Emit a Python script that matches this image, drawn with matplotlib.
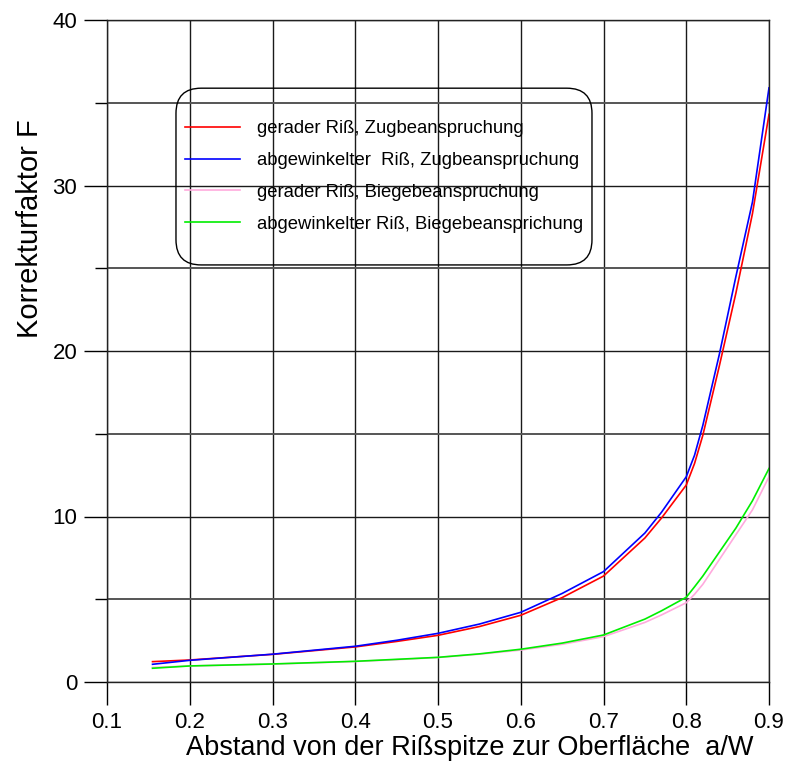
import matplotlib
matplotlib.use("Agg")
import matplotlib.pyplot as plt
from matplotlib.patches import FancyBboxPatch
from matplotlib.ticker import MultipleLocator

# a/W values where the curves were read
x_aw = [0.155, 0.2, 0.3, 0.4, 0.45, 0.5, 0.55, 0.6, 0.65, 0.7, 0.75, 0.77, 0.8,
        0.81, 0.82, 0.84, 0.86, 0.88, 0.9]

# Korrekturfaktor F
gerade_zug = [1.23, 1.33, 1.67, 2.12, 2.45, 2.82, 3.35, 4.03, 5.1, 6.4, 8.7, 9.9, 11.9,
              13.2, 14.9, 19.1, 23.5, 28.3, 34.3]
gewinkelt_zug = [1.07, 1.31, 1.68, 2.16, 2.52, 2.94, 3.5, 4.21, 5.35, 6.67, 9.0, 10.25, 12.4,
                 13.7, 15.5, 19.8, 24.5, 29.0, 35.9]
gerade_biege = [0.88, 0.97, 1.08, 1.24, 1.35, 1.48, 1.68, 1.93, 2.28, 2.74, 3.6, 4.05, 4.79,
                5.3, 5.9, 7.4, 8.9, 10.4, 12.4]
gewinkelt_biege = [0.83, 0.97, 1.09, 1.25, 1.37, 1.49, 1.7, 1.98, 2.35, 2.84, 3.8, 4.3, 5.12,
                   5.75, 6.4, 7.85, 9.3, 10.95, 12.9]

labels = ["gerader Riß, Zugbeanspruchung",
          "abgewinkelter  Riß, Zugbeanspruchung",
          "gerader Riß, Biegebeanspruchung",
          "abgewinkelter Riß, Biegebeansprichung"]
colors = ["#ff0000", "#0000ff", "#ffaadd", "#00ee00"]

plt.rcParams["font.family"] = ["Liberation Sans", "DejaVu Sans"]

fig = plt.figure(figsize=(7.89, 7.67), dpi=100)
ax = fig.add_axes([107 / 789, 1 - 682 / 767, 662 / 789, 662 / 767])

for y, lab, c in zip([gerade_zug, gewinkelt_zug, gerade_biege, gewinkelt_biege], labels, colors):
    ax.plot(x_aw, y, color=c, lw=1.2, label=lab)

ax.set_xlim(0.1, 0.9)
ax.set_ylim(0, 40)
ax.xaxis.set_major_locator(MultipleLocator(0.1))
ax.yaxis.set_major_locator(MultipleLocator(10))
ax.yaxis.set_minor_locator(MultipleLocator(5))
ax.set_xticklabels([f"{v:.1f}" for v in ax.get_xticks()], fontsize=16)
ax.set_yticklabels([f"{v:.0f}" for v in ax.get_yticks()], fontsize=16)

ax.tick_params(axis="x", which="major", length=16.5, width=1, pad=5)
ax.tick_params(axis="y", which="major", length=16.5, width=1, pad=5)
ax.tick_params(axis="y", which="minor", length=8.6, width=1)
ax.grid(True, which="major", color="#1a1a1a", lw=1.0)
ax.grid(True, which="minor", axis="y", color="#555555", lw=1.4)
for s in ax.spines.values():
    s.set_color("#222222")
    s.set_linewidth(1.0)

# rounded legend frame (drawn separately, transparent)
frame = FancyBboxPatch((0.1042, 0.630), 0.6284, 0.267,
                       boxstyle="round,pad=0,rounding_size=0.038",
                       transform=ax.transAxes, facecolor="none",
                       edgecolor="black", lw=1.0, zorder=5)
ax.add_patch(frame)
ax.legend(loc="center", bbox_to_anchor=(0.418, 0.7636), frameon=False,
          fontsize=13.3, handlelength=3.0, handletextpad=0.9,
          labelspacing=0.8, borderpad=0.2)

fig.text(470 / 789, 1 - 748 / 767, "Abstand von der Rißspitze zur Oberfläche  a/W",
         fontsize=19.5, ha="center", va="center")
fig.text(30 / 789, 1 - 229 / 767, "Korrekturfaktor F",
         fontsize=21, rotation=90, ha="center", va="center")

fig.savefig("out.png", dpi=100)
